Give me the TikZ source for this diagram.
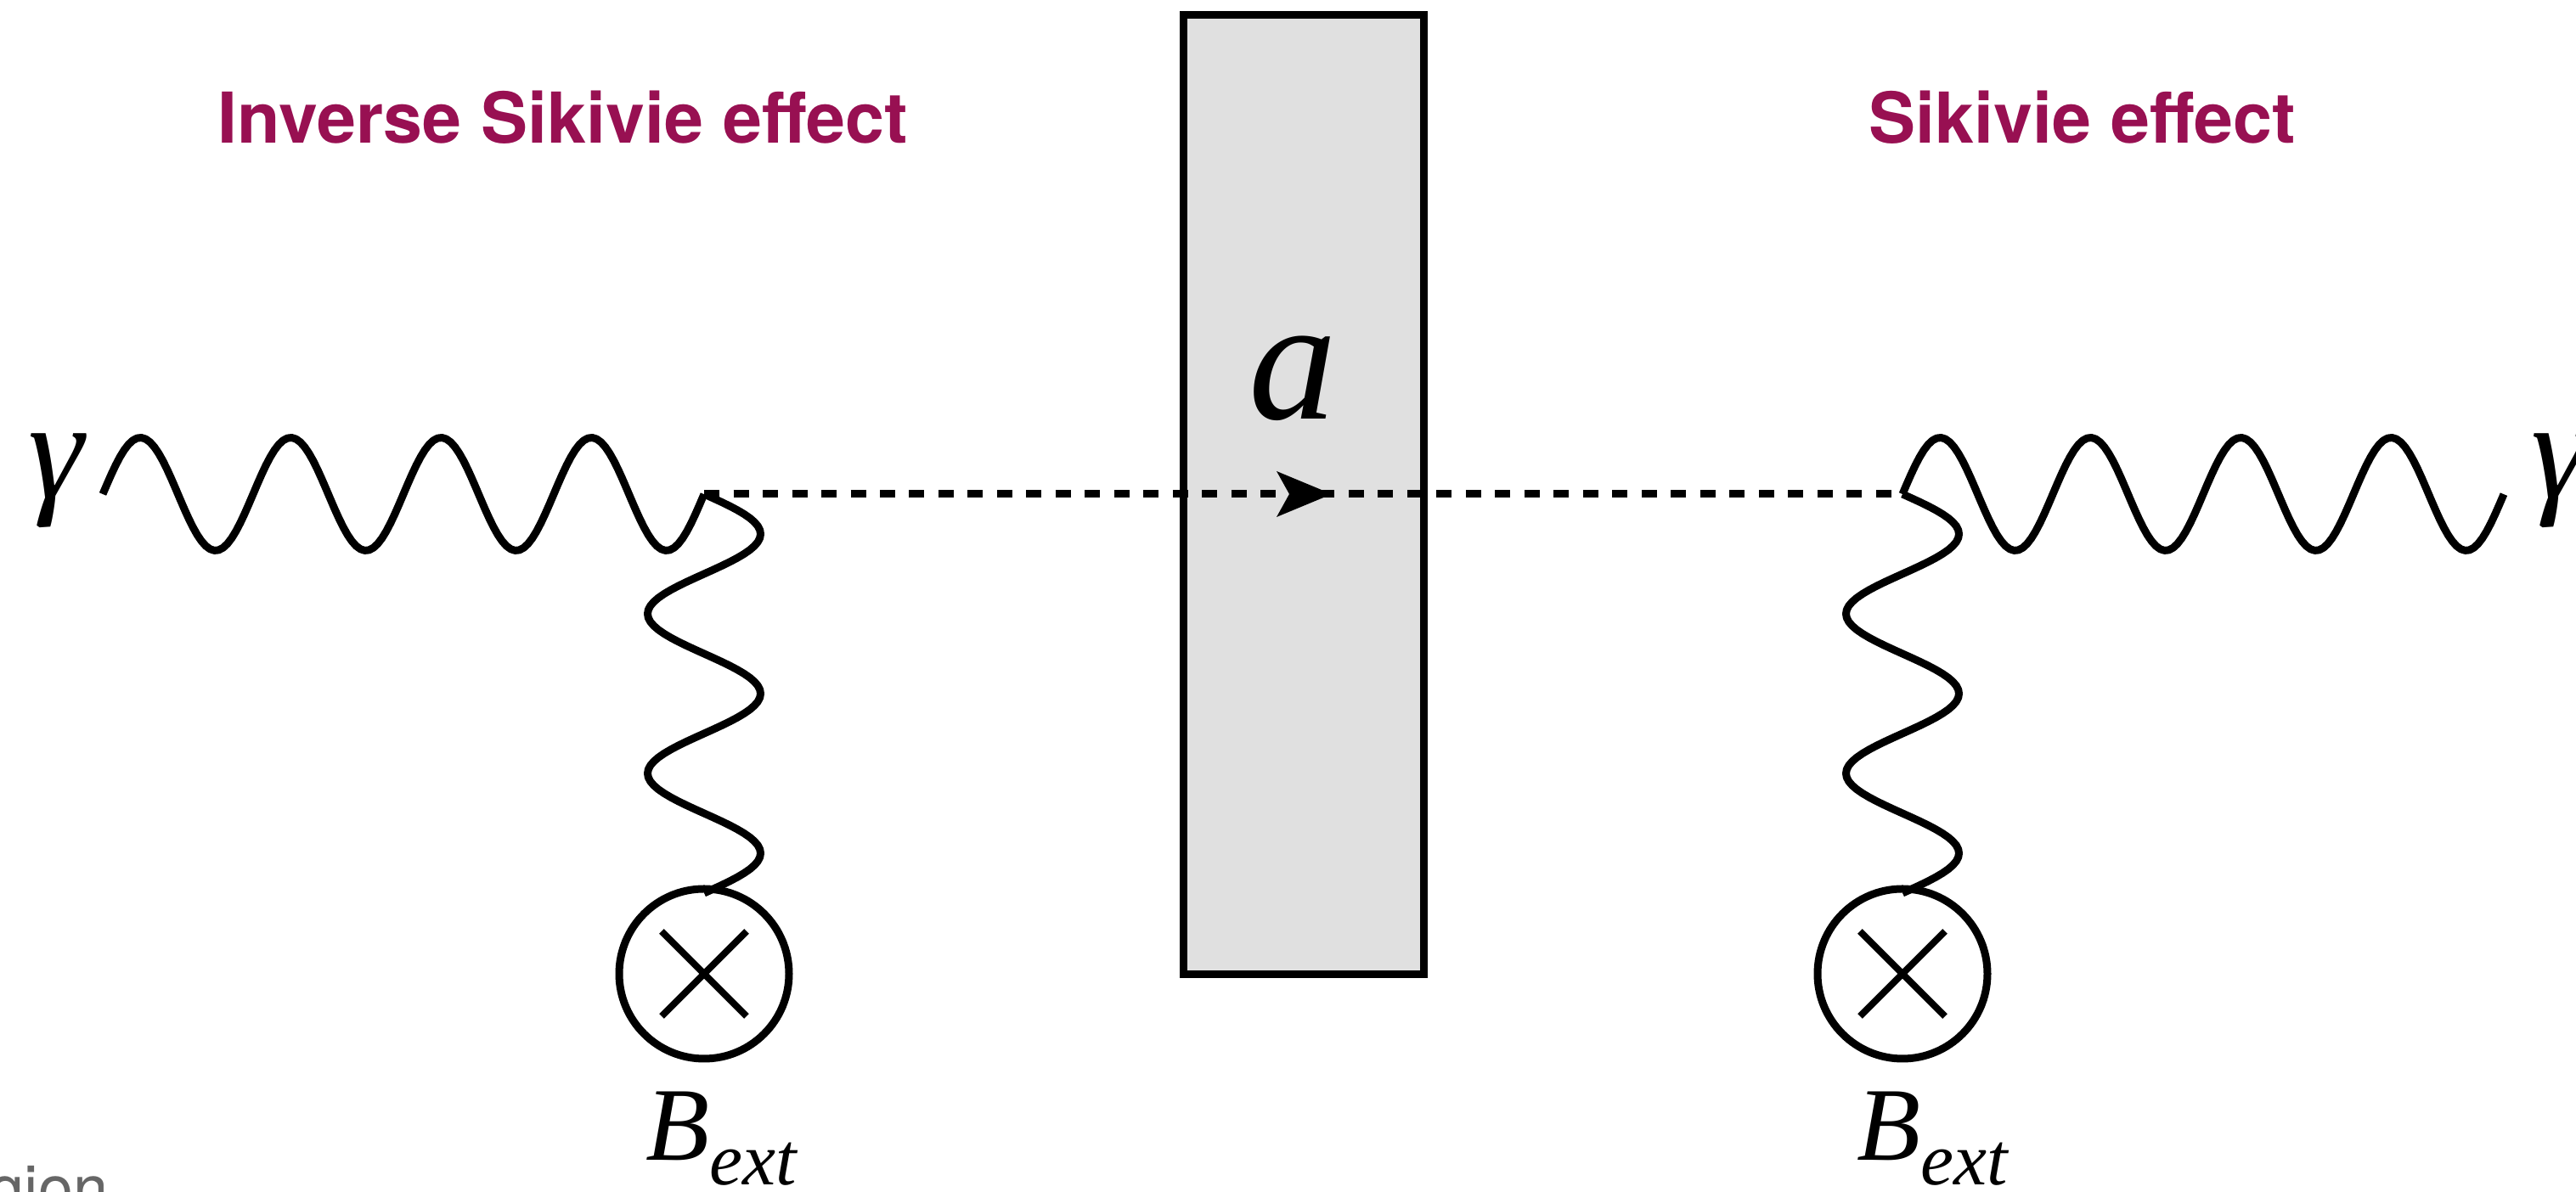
\documentclass[tikz,border=0pt]{standalone}
\usepackage{fontspec}
\setmainfont{Liberation Serif}
\newfontfamily\titlefont{TeX Gyre Heros}
\usetikzlibrary{arrows.meta, positioning}
\definecolor{titlered}{RGB}{152,16,82}
\tikzset{
  photon/.style={line width=0.09cm, line join=round},
  axion/.style={line width=0.09cm, dash pattern=on 0.18cm off 0.165cm},
  effect/.style={font=\titlefont\bfseries\fontsize{23.5}{24}\selectfont, text=titlered, inner sep=0pt},
  source/.style={circle, draw, line width=0.09cm, minimum size=2cm, inner sep=0pt}
}
\begin{document}
\begin{tikzpicture}
  \useasboundingbox (0,0) rectangle (30.33,14.04);

  % Titles
  \node[effect] (inv) at (6.63,12.66) {Inverse Sikivie effect};
  \node[effect] (sik) at (24.52,12.66) {Sikivie effect};

  % Axion slab
  \node[draw, fill=black!12, line width=0.09cm, minimum width=2.83cm, minimum height=11.3cm, inner sep=0pt] (slab) at (15.35,8.21) {};
  \node[inner sep=0pt, font=\itshape\fontsize{59}{59}\selectfont] (alabel) at (15.22,9.58) {a};

  % Vertices and photon ends
  \coordinate (vertL) at (8.29,8.22);
  \coordinate (vertR) at (22.40,8.22);
  \coordinate (endL) at (1.21,8.22);

  % External field
  \node[source] (extL) at (8.29,2.57) {};
  \node[source] (extR) at (22.40,2.57) {};
  \foreach \src in {extL, extR} {
    \draw[line width=0.08cm] (\src.center) ++(-0.5,-0.5) -- ++(1,1);
    \draw[line width=0.08cm] (\src.center) ++(-0.5,0.5) -- ++(1,-1);
  }

  % Photons
  \draw[photon, shift={(endL)}] plot[domain=0:7.08, samples=141] (\x,{0.665*sin(\x/1.77*360)});
  \draw[photon, shift={(vertR)}] plot[domain=0:7.08, samples=141] (\x,{0.665*sin(\x/1.77*360)});
  \draw[photon, shift={(vertL)}] plot[domain=0:4.7, samples=101] ({0.665*sin(\x/1.88*360)},-\x);
  \draw[photon, shift={(vertR)}] plot[domain=0:4.7, samples=101] ({0.665*sin(\x/1.88*360)},-\x);

  % Axion line
  \draw[axion] (vertL) -- (vertR);
  \fill (15.68,8.22) -- (15.03,8.49) -- (15.18,8.22) -- (15.03,7.95) -- cycle;

  % Labels
  \node[font=\itshape\fontsize{47}{47}\selectfont, inner sep=0pt] (gamL) at (0.66,8.38) {γ};
  \node[font=\itshape\fontsize{47}{47}\selectfont, inner sep=0pt] (gamR) at (30.13,8.38) {γ};
  \node[anchor=base west, inner sep=0pt, font=\itshape\fontsize{35}{35}\selectfont] (bL) at (7.60,0.37) {B\raisebox{-0.29cm}{\fontsize{25}{25}\selectfont ext}};
  \node[anchor=base west, inner sep=0pt, font=\itshape\fontsize{35}{35}\selectfont] (bR) at (21.86,0.37) {B\raisebox{-0.29cm}{\fontsize{25}{25}\selectfont ext}};
  \node[anchor=base west, inner sep=0pt, text=black!60, font=\titlefont\fontsize{21}{21}\selectfont] (cut) at (-0.78,-0.22) {region};
\end{tikzpicture}
\end{document}
